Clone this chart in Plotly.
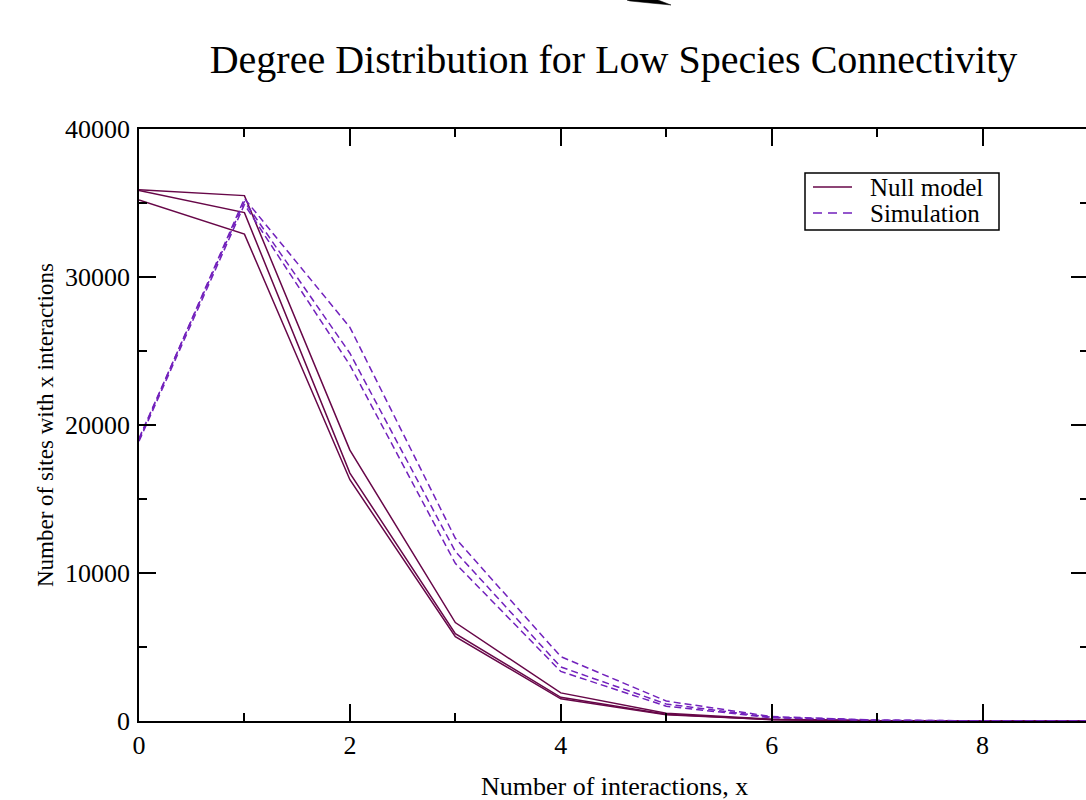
import plotly.graph_objects as go

x_vals = [0, 1, 2, 3, 4, 5, 6, 7, 8, 9]

null_run1 = [35900, 35500, 18300, 6650, 1900, 520, 120, 25, 5, 0]
null_run2 = [35850, 34350, 16750, 5900, 1600, 450, 100, 20, 4, 0]
null_run3 = [35200, 32900, 16300, 5700, 1500, 420, 90, 15, 3, 0]

sim_run1 = [19000, 35300, 26600, 12350, 4350, 1350, 300, 60, 10, 2]
sim_run2 = [19100, 35100, 24850, 11450, 3650, 1150, 250, 50, 8, 1]
sim_run3 = [18900, 34900, 24050, 10650, 3350, 1000, 220, 40, 6, 1]

null_runs = [null_run1, null_run2, null_run3]
sim_runs = [sim_run1, sim_run2, sim_run3]

legend_labels = ["Null model", "Simulation"]

NULL_COLOR = "#670748"
SIM_COLOR = "#7221BC"
SIM_DASH = "7px,4px"
FONT = "Liberation Serif, Times New Roman, serif"

fig = go.Figure()
for i, run in enumerate(null_runs):
    fig.add_trace(go.Scatter(
        x=x_vals, y=run, mode="lines", name=legend_labels[0],
        showlegend=False,
        line=dict(color=NULL_COLOR, width=1.5),
    ))
for i, run in enumerate(sim_runs):
    fig.add_trace(go.Scatter(
        x=x_vals, y=run, mode="lines", name=legend_labels[1],
        showlegend=False,
        line=dict(color=SIM_COLOR, width=1.5, dash=SIM_DASH),
    ))

W, H = 1090, 800
L, T = 139, 129
PR, PB = 1088, 721          # plot right / bottom in pixels
R, B = W - PR, H - PB
plot_w = PR - L
plot_h = PB - T

def px_to_paper(px, py):
    return (px - L) / plot_w, (PB - py) / plot_h

# small black wedge artifact at top of the picture
pts = [(627, 0), (658, 0), (671, 5), (650, 3), (630, 1)]
path = ""
for k, (px, py) in enumerate(pts):
    xp, yp = px_to_paper(px, py)
    path += ("M" if k == 0 else "L") + f"{xp:.5f},{yp:.5f} "
path += "Z"

xt = px_to_paper(614, 786)
yt = px_to_paper(45, 425)

# legend box (drawn in paper space)
lx0, ly0 = px_to_paper(805, 173)
lx1, ly1 = px_to_paper(999, 230)
shapes = [
    dict(type="path", xref="paper", yref="paper", path=path,
         fillcolor="black", line=dict(color="black", width=0.5)),
    dict(type="rect", xref="paper", yref="paper", x0=lx0, y0=ly0, x1=lx1, y1=ly1,
         fillcolor="white", line=dict(color="black", width=1.5), layer="above"),
]
annotations = [
    dict(text="Number of interactions, x", xref="paper", yref="paper",
         x=xt[0], y=xt[1], xanchor="center", yanchor="middle",
         showarrow=False, font=dict(size=26, family=FONT, color="black")),
    dict(text="Number of sites with x interactions", xref="paper", yref="paper",
         x=yt[0], y=yt[1], xanchor="center", yanchor="middle", textangle=-90,
         showarrow=False, font=dict(size=23, family=FONT, color="black")),
]
rows = [(187, NULL_COLOR, "solid"), (213, SIM_COLOR, "9px,6px")]
for (row_y, col, dash), label in zip(rows, legend_labels):
    sx0, sy = px_to_paper(813, row_y)
    sx1, _ = px_to_paper(852, row_y)
    shapes.append(dict(type="line", xref="paper", yref="paper",
                       x0=sx0, x1=sx1, y0=sy, y1=sy, layer="above",
                       line=dict(color=col, width=1.5, dash=dash)))
    tx, ty = px_to_paper(868, row_y)
    annotations.append(dict(text=label, xref="paper", yref="paper",
                            x=tx, y=ty, xanchor="left", yanchor="middle",
                            showarrow=False,
                            font=dict(size=25, family=FONT, color="black")))

fig.update_layout(
    width=W, height=H,
    margin=dict(l=L, r=R, t=T, b=B, autoexpand=False),
    paper_bgcolor="white", plot_bgcolor="white",
    font=dict(family=FONT, color="black", size=22),
    showlegend=False,
    title=dict(
        text="Degree Distribution for Low Species Connectivity",
        x=(L + PR) / 2 / W, xanchor="center",
        y=1 - 59 / H, yanchor="middle",
        font=dict(size=40, family=FONT, color="black"),
    ),
    xaxis=dict(
        range=[0, 9], tickmode="linear", tick0=0, dtick=2,
        ticks="inside", ticklen=17, tickwidth=1.5, tickcolor="black",
        minor=dict(ticks="inside", ticklen=8, dtick=1, tickcolor="black", tickwidth=1.5),
        showline=True, linecolor="black", linewidth=1.5, mirror="ticks",
        showgrid=False, zeroline=False,
        tickfont=dict(size=26, family=FONT),
    ),
    yaxis=dict(
        range=[0, 40000], tickmode="linear", tick0=0, dtick=10000, tickformat="d",
        ticks="inside", ticklen=17, tickwidth=1.5, tickcolor="black",
        minor=dict(ticks="inside", ticklen=8, dtick=5000, tickcolor="black", tickwidth=1.5),
        showline=True, linecolor="black", linewidth=1.5, mirror="ticks",
        showgrid=False, zeroline=False, ticklabelstandoff=2,
        tickfont=dict(size=26, family=FONT),
    ),
    annotations=annotations,
    shapes=shapes,
)

fig.write_html(
    "out.html",
    config={"displayModeBar": False},
    post_script="document.body.style.margin='0';document.body.style.overflow='hidden';",
)
